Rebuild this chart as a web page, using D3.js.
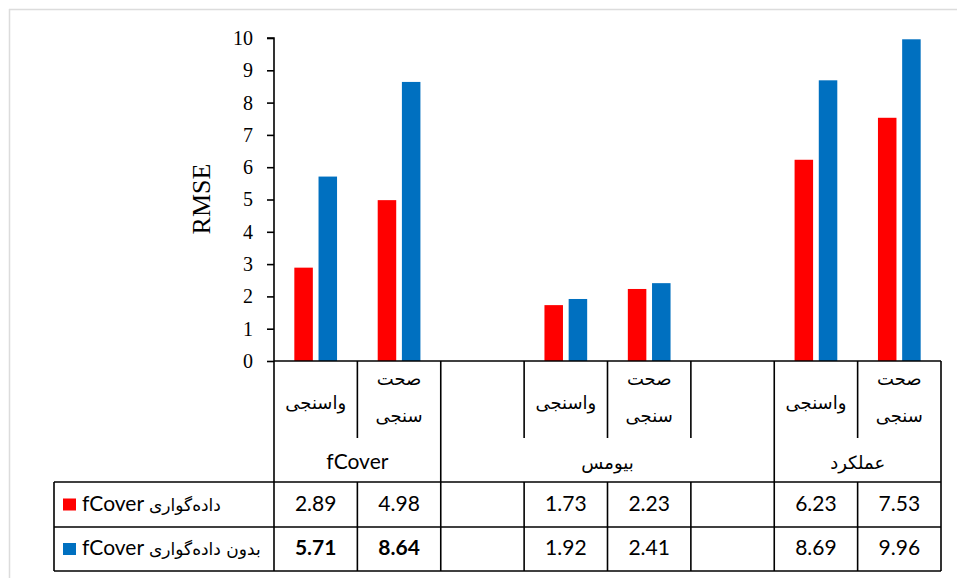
<!DOCTYPE html>
<html>
<head>
<meta charset="utf-8">
<script src="https://cdn.jsdelivr.net/npm/d3@7"></script>
<style>
  body { margin: 0; background: #fff; }
  svg { display: block; }
</style>
</head>
<body>
<svg width="957" height="578"></svg>
<script>
// slots along the x axis (two empty spacer slots inside the biomass group)
const slots = ["f_cal", "f_val", "b_pad1", "b_cal", "b_val", "b_pad2", "y_cal", "y_val"];
const slotLabels = [["واسنجی"], ["صحت", "سنجی"], [], ["واسنجی"], ["صحت", "سنجی"], [], ["واسنجی"], ["صحت", "سنجی"]];
const groups = [
  { label: "fCover", from: 0, to: 2 },
  { label: "بیومس", from: 2, to: 6 },
  { label: "عملکرد", from: 6, to: 8 }
];
const seriesNames = ["داده‌گواری", "بدون داده‌گواری"];   // each follows "fCover"
const seriesColors = ["#ff0000", "#0070c0"];
const withDA = [2.89, 4.98, null, 1.73, 2.23, null, 6.23, 7.53];
const withoutDA = [5.71, 8.64, null, 1.92, 2.41, null, 8.69, 9.96];
const yTicks = [0, 1, 2, 3, 4, 5, 6, 7, 8, 9, 10];

const svg = d3.select("svg");
const series = [withDA, withoutDA];

const x = d3.scaleBand().domain(slots).range([274, 941]);
const xs = d3.scaleBand().domain([0, 1]).range([0, x.bandwidth()]).paddingInner(0.235).paddingOuter(0.84);
const y = d3.scaleLinear().domain([0, 10]).range([361, 38]);

const rowTop = 361, subBottom = 438, headBottom = 482, row1Bottom = 527, row2Bottom = 571, tableLeft = 54;

// faint outer frame
svg.append("line").attr("x1", 9).attr("x2", 957).attr("y1", 9.5).attr("y2", 9.5).attr("stroke", "#dcdcdc").attr("stroke-width", 1.5);
svg.append("line").attr("x1", 9.5).attr("x2", 9.5).attr("y1", 9).attr("y2", 578).attr("stroke", "#dcdcdc").attr("stroke-width", 1.5);

// bars
series.forEach((vals, si) => {
  svg.append("g").selectAll("rect")
    .data(slots.map((s, i) => ({ s, v: vals[i] })).filter(d => d.v != null))
    .enter().append("rect")
    .attr("x", d => x(d.s) + xs(si))
    .attr("width", xs.bandwidth())
    .attr("y", d => y(d.v))
    .attr("height", d => y(0) - y(d.v))
    .attr("fill", seriesColors[si]);
});

// y axis
const yAxis = svg.append("g")
  .attr("transform", "translate(274,0)")
  .call(d3.axisLeft(y).tickValues(yTicks).tickSize(7).tickPadding(14).tickFormat(d3.format("d")));
yAxis.select(".domain").attr("stroke", "#000").attr("stroke-width", 1.6).attr("d", "M-7,38H0V361");
yAxis.selectAll(".tick line").attr("stroke", "#000").attr("stroke-width", 1.6);
yAxis.selectAll(".tick text")
  .attr("font-family", "'Liberation Serif', 'Times New Roman', serif")
  .attr("font-size", 20).attr("fill", "#000");

svg.append("text")
  .attr("transform", "translate(210,199) rotate(-90)")
  .attr("text-anchor", "middle")
  .attr("font-family", "'Liberation Serif', 'Times New Roman', serif")
  .attr("font-size", 26)
  .text("RMSE");

// table grid
const grid = svg.append("g").attr("stroke", "#000").attr("stroke-width", 1.6);
const edges = d3.range(slots.length + 1).map(i => i === slots.length ? x.range()[1] : x(slots[i]));
const groupEdges = new Set([0, ...groups.map(g => g.to)]);

grid.append("line").attr("x1", 274).attr("x2", 941).attr("y1", rowTop).attr("y2", rowTop);
[headBottom, row1Bottom, row2Bottom].forEach(yy => {
  grid.append("line").attr("x1", tableLeft).attr("x2", 941).attr("y1", yy).attr("y2", yy);
});
grid.append("line").attr("x1", tableLeft).attr("x2", tableLeft).attr("y1", headBottom).attr("y2", row2Bottom);
edges.forEach((ex, i) => {
  if (groupEdges.has(i)) {
    grid.append("line").attr("x1", ex).attr("x2", ex).attr("y1", rowTop).attr("y2", row2Bottom);
  } else {
    grid.append("line").attr("x1", ex).attr("x2", ex).attr("y1", rowTop).attr("y2", subBottom);
    grid.append("line").attr("x1", ex).attr("x2", ex).attr("y1", headBottom).attr("y2", row2Bottom);
  }
});

// category labels
const persianFont = "'DejaVu Sans', sans-serif";
slots.forEach((s, i) => {
  const lines = slotLabels[i];
  const cx = x(s) + x.bandwidth() / 2;
  const baseY = lines.length === 1 ? [409] : [385, 422];
  lines.forEach((t, li) => {
    svg.append("text")
      .attr("x", cx).attr("y", baseY[li])
      .attr("text-anchor", "middle")
      .attr("font-family", persianFont)
      .attr("font-size", 18)
      .text(t);
  });
});

// group labels
groups.forEach(g => {
  const x0 = edges[g.from], x1 = edges[g.to];
  svg.append("text")
    .attr("x", (x0 + x1) / 2).attr("y", 469)
    .attr("text-anchor", "middle")
    .attr("font-family", "Lato, 'DejaVu Sans', sans-serif")
    .attr("font-size", g.label === "fCover" ? 21 : 18)
    .text(g.label);
});

// data rows
const rowBase = [511, 555];
const rowMid = [504.5, 549];
series.forEach((vals, si) => {
  svg.append("rect")
    .attr("x", 63).attr("y", rowMid[si] - 6)
    .attr("width", 13).attr("height", 12)
    .attr("fill", seriesColors[si]);
  const lbl = svg.append("text")
    .attr("x", 82).attr("y", rowBase[si])
    .attr("font-family", "Lato, 'DejaVu Sans', sans-serif");
  lbl.append("tspan").attr("font-size", 21).text("fCover ");
  lbl.append("tspan").attr("font-family", persianFont).attr("font-size", 17).text(seriesNames[si]);
  slots.forEach((s, i) => {
    if (vals[i] == null) return;
    svg.append("text")
      .attr("x", x(s) + x.bandwidth() / 2).attr("y", rowBase[si])
      .attr("text-anchor", "middle")
      .attr("font-family", "Lato, sans-serif")
      .attr("font-size", 21)
      .attr("font-weight", si === 1 && i < 2 ? "bold" : "normal")
      .text(vals[i].toFixed(2));
  });
});
</script>
</body>
</html>
